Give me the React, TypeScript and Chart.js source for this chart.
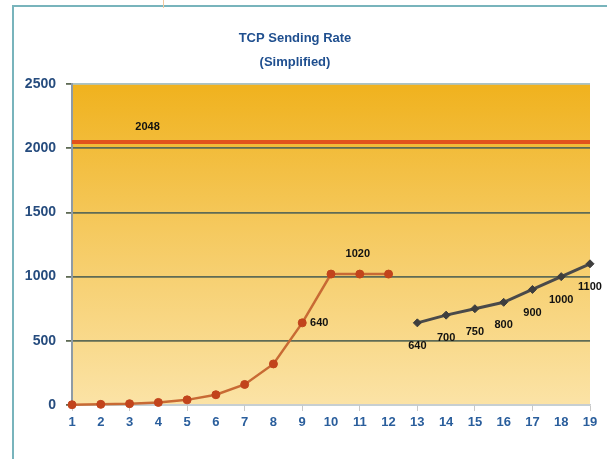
import React, { useEffect, useRef } from "react";
import { Chart, registerables } from "chart.js";

Chart.register(...registerables);

const categories = ["1","2","3","4","5","6","7","8","9","10","11","12","13","14","15","16","17","18","19"];
const slowStart = [2, 5, 10, 20, 40, 80, 160, 320, 640, 1020, 1020, 1020, null, null, null, null, null, null, null];
const linearGrowth = [null, null, null, null, null, null, null, null, null, null, null, null, 640, 700, 750, 800, 900, 1000, 1100];
const capValue = 2048;
const capLine = categories.map(() => capValue);
const yTicks = [0, 500, 1000, 1500, 2000, 2500];
const titleLines = ["TCP Sending Rate", "(Simplified)"];

// which points get value labels
const slowStartLabelIdx = [8, 10];
const linearLabelIdx = [12, 13, 14, 15, 16, 17, 18];
const capLabelIdx = [2];

const FONT = "'Liberation Sans Narrow', 'Liberation Sans', Arial, sans-serif";

const labelPlugin = {
  id: "valueLabels",
  afterDatasetsDraw(chart: any) {
    const ctx = chart.ctx;
    ctx.save();
    ctx.font = "bold 11px " + FONT;
    ctx.fillStyle = "#111";
    ctx.textAlign = "center";
    ctx.textBaseline = "middle";
    const specs = [
      { ds: 0, idx: capLabelIdx, off: (_i: number) => [18, -15] },
      { ds: 1, idx: slowStartLabelIdx, off: (i: number) => (i === 8 ? [17, 0] : [-2, -20]) },
      { ds: 2, idx: linearLabelIdx, off: (_i: number) => [0, 23] },
    ];
    specs.forEach((s) => {
      const meta = chart.getDatasetMeta(s.ds);
      const data = chart.data.datasets[s.ds].data;
      s.idx.forEach((i: number) => {
        const el = meta.data[i];
        if (!el) return;
        const [dx, dy] = s.off(i);
        ctx.fillText(String(data[i]), el.x + dx, el.y + dy);
      });
    });
    ctx.restore();
  },
};

const bgPlugin = {
  id: "bgDecor",
  beforeDraw(chart: any) {
    const { ctx, chartArea } = chart;
    const { left, top, right, bottom } = chartArea;
    ctx.save();
    const g = ctx.createLinearGradient(0, top, 0, bottom);
    g.addColorStop(0, "#F0B21E");
    g.addColorStop(0.45, "#F5C95E");
    g.addColorStop(1, "#FBE3A6");
    ctx.fillStyle = g;
    ctx.fillRect(left, top, right - left, bottom - top);
    // outer frame
    ctx.strokeStyle = "#78B4BC";
    ctx.lineWidth = 2;
    ctx.beginPath();
    ctx.moveTo(13, chart.height);
    ctx.lineTo(13, 6);
    ctx.lineTo(chart.width, 6);
    ctx.stroke();
    ctx.strokeStyle = "#F2C9A0";
    ctx.lineWidth = 1;
    ctx.beginPath();
    ctx.moveTo(163.5, 0);
    ctx.lineTo(163.5, 8);
    ctx.stroke();
    ctx.restore();
  },
};

export default function App() {
  const ref = useRef<HTMLCanvasElement | null>(null);
  useEffect(() => {
    if (!ref.current) return;
    const chart = new Chart(ref.current, {
      type: "line",
      data: {
        labels: categories,
        datasets: [
          {
            data: capLine,
            borderColor: "#E2521C",
            borderWidth: 4,
            pointRadius: 0,
            clip: false,
          },
          {
            data: slowStart,
            borderColor: "#C86A34",
            borderWidth: 2.5,
            pointRadius: 4,
            pointBorderWidth: 1,
            pointBackgroundColor: "#C2441C",
            pointBorderColor: "#C2441C",
            spanGaps: false,
            clip: false,
          },
          {
            data: linearGrowth,
            borderColor: "#4A4A4A",
            borderWidth: 3,
            pointStyle: "rectRot",
            pointRadius: 4,
            pointBorderWidth: 1,
            pointBackgroundColor: "#3E3E3E",
            pointBorderColor: "#3E3E3E",
            clip: false,
          },
        ] as any,
      },
      options: {
        animation: false,
        responsive: false,
        layout: { padding: { right: 17, top: 0, left: 0, bottom: 0 } },
        plugins: {
          legend: { display: false },
          tooltip: { enabled: false },
          title: {
            display: true,
            text: titleLines,
            color: "#1F4F8F",
            font: { family: FONT, size: 13, weight: "bold", lineHeight: 1.85 },
            padding: { top: 26, bottom: 10 },
          },
        },
        scales: {
          x: {
            offset: false,
            grid: {
              drawOnChartArea: false,
              drawTicks: true,
              tickLength: 6,
              tickColor: (c: any) => (c.index % 2 === 0 ? "#C8C8C8" : "rgba(0,0,0,0)"),
            },
            border: { display: true, color: "#C9CDD0", width: 1.5 },
            ticks: {
              color: "#2A5E9C",
              padding: 4,
              autoSkip: false,
              maxRotation: 0,
              font: { family: FONT, size: 13, weight: "bold" },
            },
            afterFit: (s: any) => { s.height = 54; },
          },
          y: {
            min: 0,
            max: 2500,
            afterBuildTicks: (s: any) => { s.ticks = yTicks.map((v) => ({ value: v })); },
            grid: {
              color: (c: any) => (c.tick && (c.tick.value === 2500 || c.tick.value === 0) ? "#A9C3C8" : "#5F6B55"),
              lineWidth: 1.8,
              tickLength: 6,
              tickColor: "#5F6B55",
            },
            border: { display: true, color: "#8E9BA6", width: 2 },
            ticks: {
              color: "#264C7E",
              padding: 10,
              callback: (v: any) => String(v),
              font: { family: FONT, size: 14, weight: "bold" },
            },
            afterFit: (s: any) => { s.width = 72; },
          },
        },
      } as any,
      plugins: [bgPlugin, labelPlugin],
    });
    return () => chart.destroy();
  }, []);
  return (
    <div style={{ position: "fixed", left: 0, top: 0, width: 607, height: 459, background: "#fff" }}>
      <canvas ref={ref} width={607} height={459} />
    </div>
  );
}
